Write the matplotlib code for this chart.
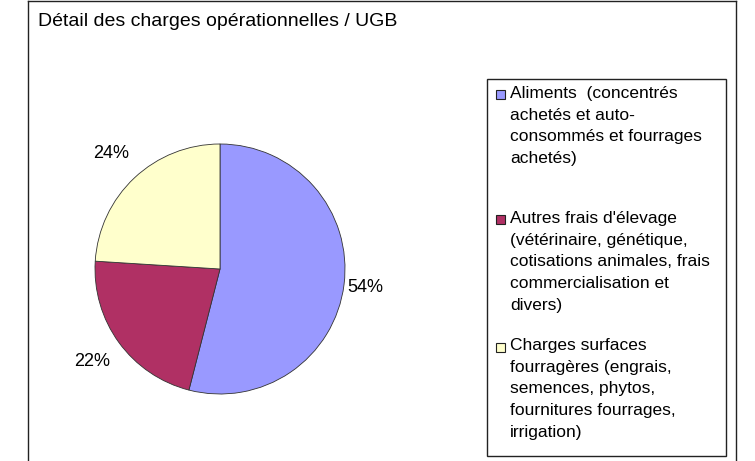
import matplotlib

matplotlib.use("Agg")
import matplotlib.pyplot as plt
import numpy as np
from matplotlib.patches import Rectangle

plt.rcParams["font.family"] = ["Liberation Sans", "DejaVu Sans"]

W, H = 755, 461

title = "Détail des charges opérationnelles / UGB"
categories = [
    "Aliments  (concentrés\nachetés et auto-\nconsommés et fourrages\nachetés)",
    "Autres frais d'élevage\n(vétérinaire, génétique,\ncotisations animales, frais\ncommercialisation et\ndivers)",
    "Charges surfaces\nfourragères (engrais,\nsemences, phytos,\nfournitures fourrages,\nirrigation)",
]
shares = [54, 22, 24]
colors = ["#9999FF", "#B03064", "#FFFFCC"]
label_dist = [1.17, 1.26, 1.27]

fig = plt.figure(figsize=(W / 100, H / 100), dpi=100)


def fx(px):
    return px / W


def fy(py):
    return 1 - py / H


# chart frame
fig.add_artist(plt.Line2D([fx(28), fx(28)], [fy(1.5), fy(470)], color="#222", lw=1))
fig.add_artist(plt.Line2D([fx(28), fx(736)], [fy(1.5), fy(1.5)], color="#222", lw=1))
fig.add_artist(plt.Line2D([fx(736), fx(736)], [fy(1.5), fy(470)], color="#222", lw=1))

fig.text(fx(38), fy(22), title, fontsize=14, va="center", ha="left")

# pie: centre (220, 269), radius 125 px
cx, cy, r, half = 220, 269, 125, 170
ax = fig.add_axes([fx(cx - half), fy(cy + half), 2 * half / W, 2 * half / H])
wedges, _, autotexts = ax.pie(
    shares,
    colors=colors,
    startangle=90,
    counterclock=False,
    autopct="%1.0f%%",
    wedgeprops=dict(edgecolor="#333", linewidth=0.6),
    textprops=dict(fontsize=13),
)
for w, t, d in zip(wedges, autotexts, label_dist):
    ang = np.deg2rad((w.theta1 + w.theta2) / 2)
    t.set_position((d * np.cos(ang), d * np.sin(ang)))
lim = half / r
ax.set_xlim(-lim, lim)
ax.set_ylim(-lim, lim)
ax.axis("off")

# legend box
fig.add_artist(Rectangle((fx(487), fy(456)), fx(726) - fx(487), fy(79) - fy(456),
                         fill=False, edgecolor="#222", lw=1, transform=fig.transFigure))
entry_y = [95, 220, 347]
for label, color, y in zip(categories, colors, entry_y):
    fig.add_artist(Rectangle((fx(496), fy(y + 4.5)), fx(9), 9 / H, facecolor=color,
                             edgecolor="#222", lw=0.8, transform=fig.transFigure))
    fig.text(fx(510), fy(y - 9), label, fontsize=12.5, va="top", ha="left", linespacing=1.56)

fig.savefig("out.png", dpi=100)
